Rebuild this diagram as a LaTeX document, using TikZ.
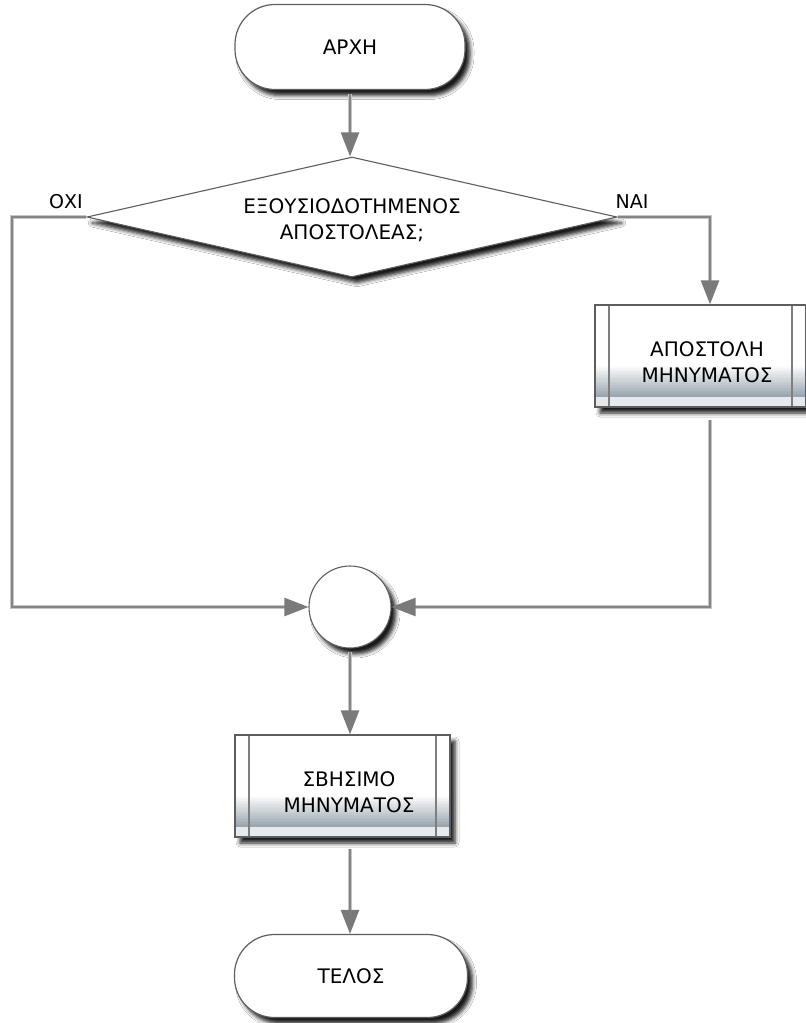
\documentclass[tikz,border=0pt]{standalone}
\usepackage{fontspec}
\setmainfont{DejaVu Sans}
\usetikzlibrary{shapes.geometric, shapes.misc, arrows.meta, calc, shadows.blur}

\definecolor{wiregray}{HTML}{858585}
\definecolor{wirelight}{HTML}{C6C6C6}
\definecolor{tipgray}{HTML}{7A7A7A}
\definecolor{edgegray}{HTML}{5E5E5E}
\definecolor{bandgray}{HTML}{9AA6AF}
\definecolor{striplight}{HTML}{E6EAED}

\tikzset{
  txt/.style={font=\fontsize{20}{26}\selectfont, align=center, text=black},
  lbl/.style={font=\fontsize{19}{24}\selectfont, text=black, inner sep=0pt},
  shadowed/.style={blur shadow={shadow xshift=5pt, shadow yshift=-6pt,
      shadow blur radius=4pt, shadow opacity=90}},
  terminal/.style={shadowed, draw=edgegray, line width=1.2pt, fill=white,
      rounded corners=40pt, inner sep=0pt, txt},
  decision/.style={shadowed, diamond, draw=edgegray, line width=1.1pt, fill=white,
      aspect=4.4, inner sep=0pt, minimum width=530pt, minimum height=120pt, txt},
  joint/.style={shadowed, circle, draw=edgegray, line width=1.1pt, fill=white,
      minimum size=82pt, inner sep=0pt},
  procbox/.style={shadowed, rectangle, draw=edgegray, line width=1.2pt, fill=white,
      inner sep=0pt,
      path picture={
        \coordinate (pnw) at (path picture bounding box.north west);
        \coordinate (pne) at (path picture bounding box.north east);
        \coordinate (psw) at (path picture bounding box.south west);
        \coordinate (pse) at (path picture bounding box.south east);
        % band that darkens from white towards grey-blue near the bottom
        \foreach \i [evaluate=\i as \pct using 100*(\i+1)/20,
                     evaluate=\i as \fa using 0.60+0.30*\i/20,
                     evaluate=\i as \fb using 0.605+0.30*(\i+1)/20] in {0,...,19} {
          \fill[bandgray!\pct!white] ($(pnw)!\fa!(psw)$) rectangle ($(pne)!\fb!(pse)$);
        }
        % pale strip along the bottom edge
        \fill[striplight] ($(pnw)!0.90!(psw)$) rectangle (pse);
        % the two inner side rules
        \draw[edgegray!80, line width=1.3pt] ($(pnw)+(14,0)$) -- ($(psw)+(14,0)$);
        \draw[edgegray!80, line width=1.3pt] ($(pne)+(-14,0)$) -- ($(pse)+(-14,0)$);
      }},
  arrowwire/.style={draw=wiregray, line width=2.4pt, line join=miter,
      -{Triangle[length=24pt, width=18pt, color=tipgray]},
      preaction={draw=wirelight, line width=4.6pt, arrows=-, shorten >=22pt}},
}

\begin{document}
\begin{tikzpicture}[x=1pt, y=-1pt]
  \fill[white] (0,0) rectangle (806,1023);
  \useasboundingbox (0,0) rectangle (806,1023);

  % flow chart nodes
  \node[terminal, minimum width=230pt, minimum height=85pt] (start) at (350,47) {ΑΡΧΗ};
  \node[decision] (check) at (352,217) {};
  \node[txt, inner sep=0pt] (checktext) at (352,220) {ΕΞΟΥΣΙΟΔΟΤΗΜΕΝΟΣ\\ΑΠΟΣΤΟΛΕΑΣ;};
  \node[procbox, minimum width=211pt, minimum height=102pt] (send) at (700.5,356) {};
  \node[txt, inner sep=0pt] (sendtext) at (707,362) {ΑΠΟΣΤΟΛΗ\\ΜΗΝΥΜΑΤΟΣ};
  \node[joint] (merge) at (350,607) {};
  \node[procbox, minimum width=215pt, minimum height=102pt] (erase) at (342.5,786) {};
  \node[txt, inner sep=0pt] (erasetext) at (349,792) {ΣΒΗΣΙΜΟ\\ΜΗΝΥΜΑΤΟΣ};
  \node[terminal, minimum width=233pt, minimum height=83pt] (stop) at (351,976) {ΤΕΛΟΣ};

  % branch labels
  \node[lbl, anchor=base] (nolbl) at (66,208) {ΟΧΙ};
  \node[lbl, anchor=base] (yeslbl) at (632,208) {ΝΑΙ};

  % connectors
  \coordinate (nocorner) at (12,217);
  \coordinate (yescorner) at (710,217);
  \coordinate (sendout) at (710,420);

  \draw[arrowwire] ([yshift=-4pt]start.south) -- (start.south |- check.north);
  \draw[arrowwire] (check.west) -- (nocorner) |- (merge.west);
  \draw[arrowwire] (check.east) -- (yescorner) -- (yescorner |- send.north);
  \draw[arrowwire] (sendout) |- (merge.east);
  \draw[arrowwire] ([yshift=-3pt]merge.south) -- (merge.south |- erase.north);
  \draw[arrowwire] ([yshift=-11pt]erase.south -| merge.south) -- (stop.north -| merge.south);
\end{tikzpicture}
\end{document}
